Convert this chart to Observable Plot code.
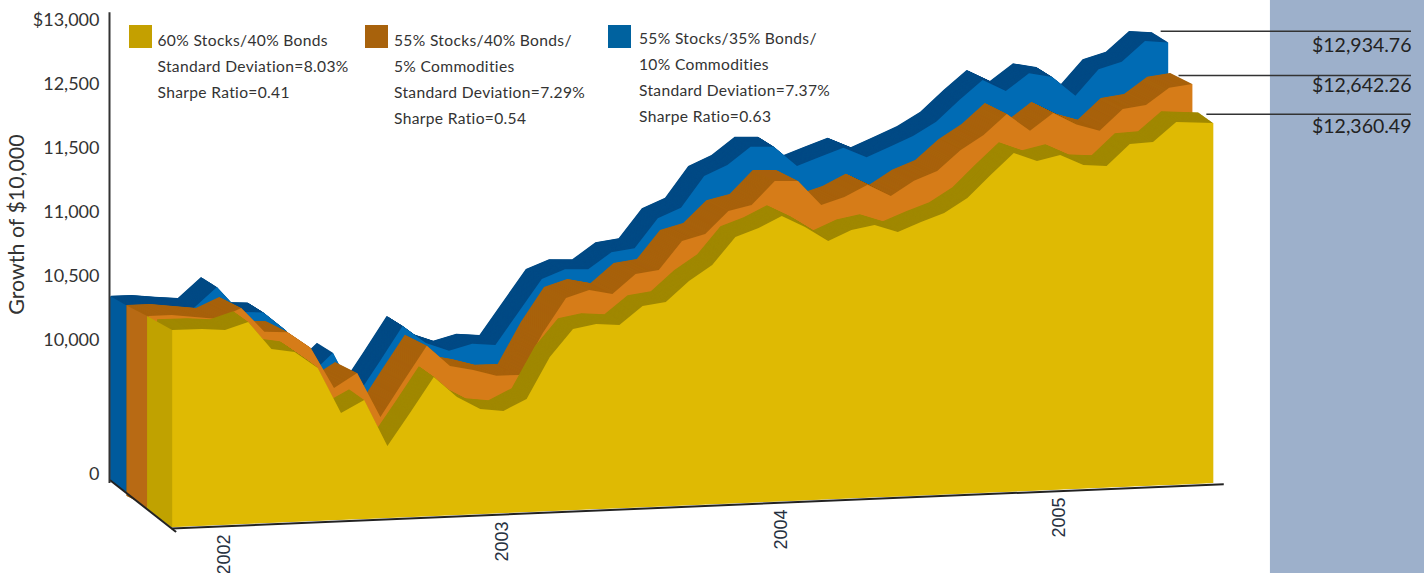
<!DOCTYPE html>
<html><head><meta charset="utf-8">
<script src="https://cdn.jsdelivr.net/npm/d3@7"></script>
<script src="https://cdn.jsdelivr.net/npm/@observablehq/plot@0.6"></script>
<style>
html,body{margin:0;padding:0;width:1424px;height:573px;overflow:hidden;background:#fff}
#wrap{position:relative;width:1424px;height:573px;overflow:hidden;font-family:Lato,"Open Sans",sans-serif;color:#333}
#wrap svg{position:absolute;left:0;top:0;background:none}
.sw{position:absolute;width:23px;height:23px}
.lg{position:absolute;font-size:15.6px;line-height:26px;white-space:nowrap;letter-spacing:.33px}
.ft{position:absolute;left:305px;top:570px;font-size:18px;white-space:nowrap;color:#333;letter-spacing:.2px}
</style></head><body><div id="wrap"></div>
<script>
// Months since January 2002
const monthsYellow = [-2.28,-1,0,1,2,3,4,5,6,7,8,9,10,11,12,13,14,15,16,17,18,19,20,21,22,23,24,25,26,27,28,29,30,31,32,33,34,35,36,37,38,39,40,41,42.6];
const monthsOrange = [-3,-2,-1,0,1,2,3,4,5,6,7,8,9,10,11,12,13,14,15,16,17,18,19,20,21,22,23,24,25,26,27,28,29,30,31,32,33,34,35,36,37,38,39,40,41,42];
const monthsBlue   = [-2.88,-2,-1,0,1,2,3,4,5,6,7,8,9,10,11,12,13,14,15,16,17,18,19,20,21,22,23,24,25,26,27,28,29,30,31,32,33,34,35,36,37,38,39,40,41,42];
// Values
const valuesYellow = [10492,10490,10475,10530,10311,10280,10148,7978,8874,5375,7837,10039,8806,7837,7613,8441,10157,10368,10399,10384,10525,10548,10705,10822,11033,11096,11182,11088,10971,11049,11081,11019,11089,11152,11261,11434,11695,11555,11633,11480,11466,11759,11775,12072,12031];
const valuesOrange = [10445,10445,10422,10398,10477,10284,10272,10141,8292,9336,5979,8597,10121,9567,9194,8695,8680,10182,10448,10502,10463,10612,10636,10855,10902,11073,11113,11293,11285,11090,11145,11234,11138,11249,11317,11473,11667,11980,11703,11964,11772,11658,11981,12028,12283,12325];
const valuesBlue   = [10393,10392,10371,10353,10509,10306,10295,10143,8008,9597,6218,8762,10144,10003,9381,9828,9664,10215,10465,10533,10525,10651,10674,10901,10976,11216,11295,11430,11422,11263,11328,11391,11309,11384,11459,11627,11952,12248,12061,12322,12248,11942,12339,12442,12625,12607];
// Left side panels of each slab: [month, top value, bottom value]
const sideYellow = [[-2.28,10492,-75],[-3.36,10609,1458]];
const sideOrange = [[-3.06,10445,-112],[-3.92,10532,1108]];
const sideBlue   = [[-2.88,10393,-224],[-3.61,10474,802]];

const yTicks = [0,10000,10500,11000,11500,12500,13000];
const yTickLabels = ["0","10,000","10,500","11,000","11,500","12,500","$13,000"];
const yearTicks = [0,12,24,36];
const yearLabels = ["2002","2003","2004","2005"];
const yearLabelValues = [-4476,-3506,-2611,-1716];
const endValues = ["$12,934.76","$12,642.26","$12,360.49"];
const endLabelValues = [12805,12473,11833];
const leaderValues = [12916,12570,12036];
const leaderStarts = [40.33,41.1,42.3];

const legend = [
  {color:"#c4a000",swX:129,swY:25,x:157.5,y:27,lines:["60% Stocks/40% Bonds","Standard Deviation=8.03%","Sharpe Ratio=0.41"]},
  {color:"#a8620c",swX:365,swY:25,x:394,y:27,lines:["55% Stocks/40% Bonds/","5% Commodities","Standard Deviation=7.29%","Sharpe Ratio=0.54"]},
  {color:"#00629f",swX:608,swY:25,x:639,y:25,lines:["55% Stocks/35% Bonds/","10% Commodities","Standard Deviation=7.37%","Sharpe Ratio=0.63"]}
];

const slope = -44/1043;
const tilt = (i,s,v,d,c,next)=>{
  const g = next(i,s,v,d,c);
  const w = document.createElementNS("http://www.w3.org/2000/svg","g");
  w.setAttribute("transform",`matrix(1,${slope},0,1,0,${-slope*172})`);
  w.appendChild(g);
  return w;
};
const rows = (ms,vs)=>ms.map((m,i)=>({m,v:vs[i]}));

function slab({months,values,side,face,ribbon,sideFill,px,py,depthX,depthY}){
  const data = rows(months,values);
  const sideRows = side.map(([m,top,bottom])=>({m,top,bottom}));
  const n = Math.round(Math.abs(depthX)*2);
  const copies = d3.range(n,0,-1).map(k=>Plot.areaY(data,{
    x:"m",y1:0,y2:"v",fill:ribbon,
    dx:px+depthX*k/n,dy:py+depthY*k/n,render:tilt}));
  return [
    ...copies,
    Plot.areaY(sideRows,{x:"m",y1:"bottom",y2:"top",fill:sideFill,dx:px,dy:py,render:tilt}),
    Plot.areaY(data,{x:"m",y1:0,y2:"v",fill:face,dx:px,dy:py,render:tilt})
  ];
}

const chart = Plot.plot({
  width:1424,height:573,marginLeft:110,marginRight:154,marginTop:20,marginBottom:99,
  style:{background:"none",fontFamily:"Lato, 'Open Sans', sans-serif",overflow:"hidden"},
  x:{type:"linear",domain:[0,40],range:[225,1153],axis:null},
  y:{type:"linear",domain:yTicks,range:[474,340,276,212,148,84,20],axis:null},
  marks:[
    Plot.rect([0],{x1:()=>45.04,x2:()=>52,y1:()=>-7400,y2:()=>13160,fill:"#9db0cb"}),
    ...slab({months:monthsBlue,values:valuesBlue,side:sideBlue,face:"#006bb4",ribbon:"#004a85",sideFill:"#005a9c",px:-31.2,py:14.12,depthX:-16,depthY:-10.7}),
    ...slab({months:monthsOrange,values:valuesOrange,side:sideOrange,face:"#d67c18",ribbon:"#a8620c",sideFill:"#b86a14",px:-7,py:31.94,depthX:-22,depthY:-11.9}),
    ...slab({months:monthsYellow,values:valuesYellow,side:sideYellow,face:"#dfba03",ribbon:"#a08800",sideFill:"#c0a200",px:0,py:53,depthX:-15,depthY:-11.3}),
    // axes and floor
    Plot.line([{m:-4.96,v:-448},{m:-2.155,v:-4250}],{x:"m",y:"v",stroke:"#222",strokeWidth:2}),
    Plot.ruleY([0],{x1:-2.3,x2:43.05,stroke:"#222",strokeWidth:2,dy:54,render:tilt}),
    Plot.ruleX([-5],{y1:-670,y2:13060,stroke:"#333",strokeWidth:2}),
    Plot.axisY(yTicks,{anchor:"left",tickSize:0,tickPadding:11,fontSize:18,label:null,fill:"#333",
      tickFormat:d=>yTickLabels[yTicks.indexOf(d)]}),
    Plot.text(["Growth of $10,000"],{x:()=>-8.97,y:()=>10906,text:d=>d,rotate:-90,fontSize:21.4,fill:"#333",textAnchor:"middle"}),
    Plot.text(yearTicks,{x:d=>d,y:(d,i)=>yearLabelValues[i],text:(d,i)=>yearLabels[i],rotate:-90,textAnchor:"end",dx:-1.5,
      fontSize:18,fill:"#253040",fontFamily:"'Liberation Sans', Arial, sans-serif"}),
    // end-value leaders and labels
    Plot.ruleY(leaderValues,{x1:(d,i)=>leaderStarts[i],x2:()=>51.12,stroke:"#333",strokeWidth:1.6}),
    Plot.text(endValues,{x:()=>51.12,y:(d,i)=>endLabelValues[i],text:d=>d,textAnchor:"end",fontSize:19.5,fill:"#222"})
  ]
});
const wrap = document.getElementById("wrap");
wrap.appendChild(chart);
for (const l of legend){
  const s=document.createElement("div");s.className="sw";
  s.style.cssText=`left:${l.swX}px;top:${l.swY}px;background:${l.color}`;wrap.appendChild(s);
  const t=document.createElement("div");t.className="lg";
  t.style.cssText=`left:${l.x}px;top:${l.y}px`;
  l.lines.forEach(x=>{const d=document.createElement("div");d.textContent=x;t.appendChild(d);});
  wrap.appendChild(t);
}
const f=document.createElement("div");f.className="ft";
f.textContent="PAST PERFORMANCE IS NOT INDICATIVE OF FUTURE RESULTS. For";wrap.appendChild(f);
</script></body></html>
